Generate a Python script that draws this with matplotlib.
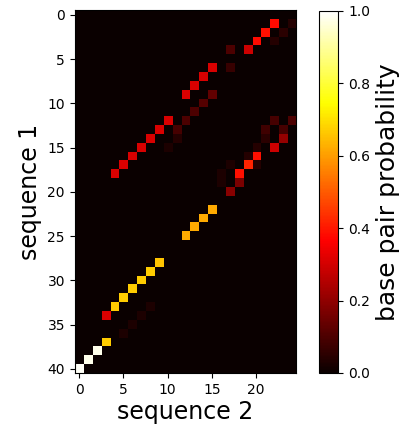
import numpy as np
import matplotlib
matplotlib.use('Agg')
import matplotlib.pyplot as plt

# Tamaño de la matriz de probabilidades
n_seq1 = 41
n_seq2 = 25

# Pares de bases (fila = secuencia 1, columna = secuencia 2) y su probabilidad
pair_i = [1, 2, 3, 4, 6, 7, 8, 9, 12, 13, 14, 15, 16, 17, 18,
          1, 2, 3, 4, 6, 9, 10, 11, 12, 13, 14, 15,
          12, 12, 13, 13, 14, 14, 15, 15, 16, 16, 17, 17, 17, 18, 18, 19, 19, 20,
          22, 23, 24, 25,
          28, 29, 30, 31, 32, 33, 34,
          33, 34, 35, 36,
          37, 38, 39, 40]
pair_j = [22, 21, 20, 19, 15, 14, 13, 12, 10, 9, 8, 7, 6, 5, 4,
          24, 23, 22, 17, 17, 15, 14, 13, 12, 11, 11, 10,
          22, 24, 21, 23, 21, 23, 20, 22, 19, 20, 17, 19, 20, 16, 18, 16, 18, 17,
          15, 14, 13, 12,
          9, 8, 7, 6, 5, 4, 3,
          8, 7, 6, 5,
          3, 2, 1, 0]
pair_p = [0.38, 0.39, 0.38, 0.29, 0.31, 0.31, 0.31, 0.31, 0.31, 0.31, 0.31, 0.31, 0.31, 0.31, 0.31,
          0.04, 0.05, 0.04, 0.10, 0.07, 0.13, 0.11, 0.10, 0.10, 0.09, 0.04, 0.03,
          0.09, 0.10, 0.08, 0.09, 0.05, 0.21, 0.04, 0.29, 0.04, 0.39, 0.03, 0.42, 0.04, 0.03, 0.39, 0.03, 0.17, 0.19,
          0.62, 0.62, 0.62, 0.62,
          0.66, 0.67, 0.67, 0.67, 0.67, 0.67, 0.31,
          0.03, 0.03, 0.03, 0.03,
          0.67, 0.98, 0.98, 0.99]

# Construir la matriz
bpp = np.zeros((n_seq1, n_seq2))
bpp[pair_i, pair_j] = pair_p

fig = plt.figure(figsize=(4.08, 4.26), dpi=100)
ax = fig.add_axes([0.183, 0.1235, 0.542, 0.852])
cax = fig.add_axes([0.783, 0.1245, 0.0466, 0.850])

im = ax.imshow(bpp, cmap='hot', vmin=0, vmax=1, aspect='auto')
ax.set_xticks([0, 5, 10, 15, 20])
ax.set_yticks([0, 5, 10, 15, 20, 25, 30, 35, 40])
ax.set_xlabel('sequence 2', fontsize=17, labelpad=2)
ax.set_ylabel('sequence 1', fontsize=17)

cbar = fig.colorbar(im, cax=cax)
cbar.set_label('base pair probability', fontsize=18)

plt.savefig('out.png', dpi=100)
